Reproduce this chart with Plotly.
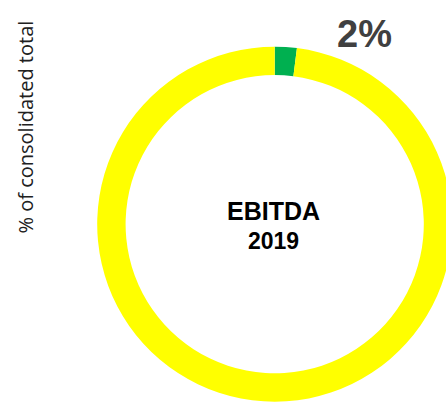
import plotly.graph_objects as go

# EBITDA 2019 share, % of consolidated total
segments = ["Segment", "Rest of group"]
shares = [2, 98]
slice_colors = ["#00B050", "#FFFF00"]
center_label = ["EBITDA", "2019"]
axis_title = "% of consolidated total"

W, H = 453, 403

fig = go.Figure(
    go.Pie(
        labels=segments,
        values=shares,
        hole=0.84,
        sort=False,
        direction="clockwise",
        rotation=0,
        marker=dict(colors=slice_colors, line=dict(width=0)),
        textinfo="none",
        hoverinfo="label+percent",
        showlegend=False,
        domain=dict(x=[97.2 / W, 452.2 / W], y=[1.3 / H, 356.3 / H]),
    )
)

annotations = [
    # rotated axis title on the left
    dict(
        text=axis_title,
        x=25.5 / W, y=1 - 127 / H, xref="paper", yref="paper",
        xanchor="center", yanchor="middle", textangle=-90, showarrow=False,
        font=dict(family="Open Sans", size=20, color="#202020"),
    ),
    # two-line label in the middle of the ring
    dict(
        text=f"<b>{center_label[0]}</b>",
        x=273.5 / W, y=1 - 210.7 / H, xref="paper", yref="paper",
        xanchor="center", yanchor="middle", showarrow=False,
        font=dict(family="Liberation Sans, Arial", size=25, color="#000000"),
    ),
    dict(
        text=f"<b>{center_label[1]}</b>",
        x=273.5 / W, y=1 - 240.6 / H, xref="paper", yref="paper",
        xanchor="center", yanchor="middle", showarrow=False,
        font=dict(family="Liberation Sans, Arial", size=23, color="#000000"),
    ),
    # value label of the small slice
    dict(
        text=f"<b>{shares[0]}%</b>",
        x=364 / W, y=1 - 34.5 / H, xref="paper", yref="paper",
        xanchor="center", yanchor="middle", showarrow=False,
        font=dict(family="Liberation Sans, Arial", size=38, color="#404040"),
    ),
]

fig.update_layout(
    width=W, height=H,
    margin=dict(l=0, r=0, t=0, b=0),
    paper_bgcolor="white", plot_bgcolor="white",
    annotations=annotations,
)

fig.write_html(
    "out.html",
    post_script="document.documentElement.style.overflow='hidden';document.body.style.overflow='hidden';document.body.style.margin='0';",
)
